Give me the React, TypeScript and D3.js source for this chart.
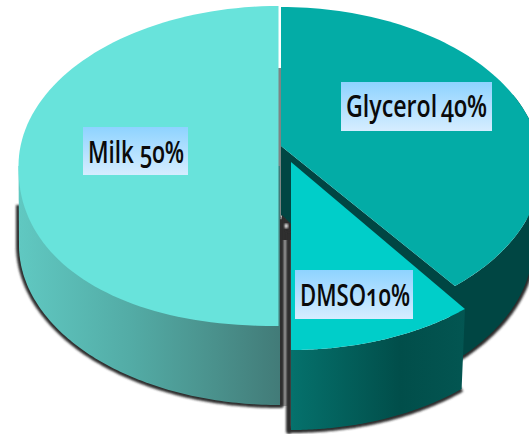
import React from "react";
import * as d3 from "d3";

// Share of each cryoprotectant, in drawing order clockwise from twelve o'clock
const names = ["Glycerol", "DMSO", "Milk"];
const shares = [40, 10, 50];
const separators = ["\u2009", "", " "];

const WIDTH = 529;
const HEIGHT = 434;
const TILT_WARP = 1.239; // perspective stretch of the pie angle around the rim
const TEXT_SQUEEZE = 0.8; // horizontal condensing of the label type
const TAU = Math.PI * 2;

type Rim = { cx: number; cy: number; rx: number; ry: number; lowerLeftPower?: number };

const warp = (a: number) => {
  const w = Math.atan2(Math.sin(a) * TILT_WARP, Math.cos(a));
  return w < 0 ? w + TAU : w;
};

// Point on a rim for a pie angle measured clockwise from the top
const rimPoint = (r: Rim, a: number): [number, number] => {
  const s = Math.sin(a);
  const c = -Math.cos(a);
  const p = s < 0 && c > 0 ? 2 / (r.lowerLeftPower ?? 2) : 1;
  return [
    r.cx + r.rx * Math.sign(s) * Math.abs(s) ** p,
    r.cy + r.ry * Math.sign(c) * Math.abs(c) ** p,
  ];
};

const rimPoints = (r: Rim, a0: number, a1: number) =>
  d3.range(0, 97).map((i) => rimPoint(r, a0 + ((a1 - a0) * i) / 96));

const line = d3.line<[number, number]>();
const path = (pts: [number, number][], close = true) => line(pts)! + (close ? "Z" : "");

const rows = d3
  .pie<number>()
  .sort(null)
  .value((d) => d)(shares);
const startOf = (i: number) => (i === 2 ? Math.PI : warp(rows[i].startAngle));
const endOf = (i: number) => (i === 1 ? Math.PI : i === 2 ? TAU : warp(rows[i].endAngle));

// Glycerol: top face and the dark wall behind the pulled-out wedge
const glyTop: Rim = { cx: 281, cy: 167, rx: 260, ry: 160 };
const glyLow: Rim = { cx: 281, cy: 245, rx: 252, ry: 160 };
const glyApex: [number, number] = [281, 146];
const glyWallRim = rimPoints(glyLow, 1.1, endOf(0) + 0.04);

// DMSO: wedge moved down and to the right
const dmsoTop: Rim = { cx: 291, cy: 190, rx: 260, ry: 160 };
const dmsoLow: Rim = { cx: 291, cy: 270, rx: 255, ry: 160 };
const dmsoApex: [number, number] = [291, 162];
const dmsoWall: [number, number][] = [
  ...rimPoints(dmsoTop, startOf(1), endOf(1)),
  ...rimPoints(dmsoLow, endOf(1), startOf(1)),
];

// Milk: left half
const milkTop: Rim = { cx: 278.5, cy: 166, rx: 260, ry: 160, lowerLeftPower: 2.2 };
const milkLow: Rim = { cx: 279, cy: 245, rx: 260, ry: 160 };
const milkLowArc = rimPoints(milkLow, Math.PI, Math.PI * 1.5);

const labelBoxes = [
  { x: 341, y: 82, w: 151, h: 49, tx: 346, ty: 117, tw: 141 },
  { x: 295, y: 270, w: 118, h: 49, tx: 300, ty: 306, tw: 110 },
  { x: 83, y: 127, w: 105, h: 48, tx: 88, ty: 163, tw: 96 },
];

export default function App() {
  return (
    <svg
      width={WIDTH}
      height={HEIGHT}
      viewBox={`0 0 ${WIDTH} ${HEIGHT}`}
      style={{ position: "absolute", left: 0, top: 0 }}
    >
      <defs>
        <linearGradient id="milkWall" gradientUnits="userSpaceOnUse" x1={20} x2={280} y1={0} y2={0}>
          <stop offset="0" stopColor="#60c8c1" />
          <stop offset="0.42" stopColor="#53aca6" />
          <stop offset="0.75" stopColor="#4a918c" />
          <stop offset="1" stopColor="#427b78" />
        </linearGradient>
        <linearGradient id="dmsoWall" gradientUnits="userSpaceOnUse" x1={291} x2={467} y1={0} y2={0}>
          <stop offset="0" stopColor="#05716c" />
          <stop offset="0.62" stopColor="#014e4a" />
          <stop offset="1" stopColor="#035652" />
        </linearGradient>
        <linearGradient id="labelFill" x1={0} x2={0} y1={0} y2={1}>
          <stop offset="0" stopColor="#8ed3ff" />
          <stop offset="1" stopColor="#d6edff" />
        </linearGradient>
        <filter id="soft" x="-5%" y="-5%" width="110%" height="110%">
          <feGaussianBlur stdDeviation="0.8" />
        </filter>
      </defs>

      {/* seam between the milk half and the rest */}
      <rect x={278} y={68} width={3.5} height={150} fill="#7d8584" />
      <rect x={282} y={226} width={6} height={180} fill="#b5b5b5" />

      {/* glycerol wall */}
      <path
        d={path(glyWallRim, false)}
        fill="none"
        stroke="#2b2b2b"
        strokeWidth={6}
        filter="url(#soft)"
      />
      <path
        d={path([...rimPoints(glyTop, 1.1, endOf(0)), ...glyWallRim.slice().reverse()])}
        fill="#004643"
      />
      <path
        d={path([glyApex, [281, 215], [291, 226], [300, 320], rimPoint(dmsoTop, startOf(1)), rimPoint(glyTop, endOf(0))])}
        fill="#004643"
      />
      <path d={path([[282, 215], [291, 224], [291, 240], [282, 240]])} fill="#2e2e2e" />
      <circle cx={286} cy={226} r={2.4} fill="#dcdcdc" filter="url(#soft)" />
      <path d={path([glyApex, ...rimPoints(glyTop, startOf(0), endOf(0))])} fill="#03aca6" />

      {/* milk wall and top */}
      <path
        d={path([[19, 205], ...milkLowArc.slice().reverse(), [281, 405], [281, 218]], false)}
        fill="none"
        stroke="#2e2e2e"
        strokeWidth={6}
        strokeLinejoin="round"
        filter="url(#soft)"
      />
      <path d={path([[18.5, 166], ...milkLowArc.slice().reverse(), [280, 405], [280, 166]])} fill="url(#milkWall)" />
      <path d={path([[278.5, 166], ...rimPoints(milkTop, startOf(2), endOf(2))])} fill="#68e3db" />

      {/* dmso wall and top */}
      <path
        d={path([[289, 232], [289, 431], ...rimPoints(dmsoLow, endOf(1), startOf(1))], false)}
        fill="none"
        stroke="#2e2e2e"
        strokeWidth={6}
        strokeLinejoin="round"
        filter="url(#soft)"
      />
      <path d={path(dmsoWall)} fill="url(#dmsoWall)" />
      <path d={path([dmsoApex, ...rimPoints(dmsoTop, startOf(1), endOf(1))])} fill="#00cec9" />

      {/* labels */}
      {names.map((name, i) => {
        const b = labelBoxes[i];
        return (
          <g key={name}>
            <rect x={b.x} y={b.y} width={b.w} height={b.h} fill="url(#labelFill)" />
            <text
              transform={`translate(${b.tx},${b.ty}) scale(${TEXT_SQUEEZE},1)`}
              textLength={b.tw / TEXT_SQUEEZE}
              lengthAdjust="spacingAndGlyphs"
              fontFamily="'Open Sans'"
              fontWeight={600}
              fontSize={31}
              fill="#0a0a0a"
              style={{ fontVariantNumeric: "oldstyle-nums" }}
            >
              {`${name}${separators[i]}${shares[i]}%`}
            </text>
          </g>
        );
      })}
    </svg>
  );
}
